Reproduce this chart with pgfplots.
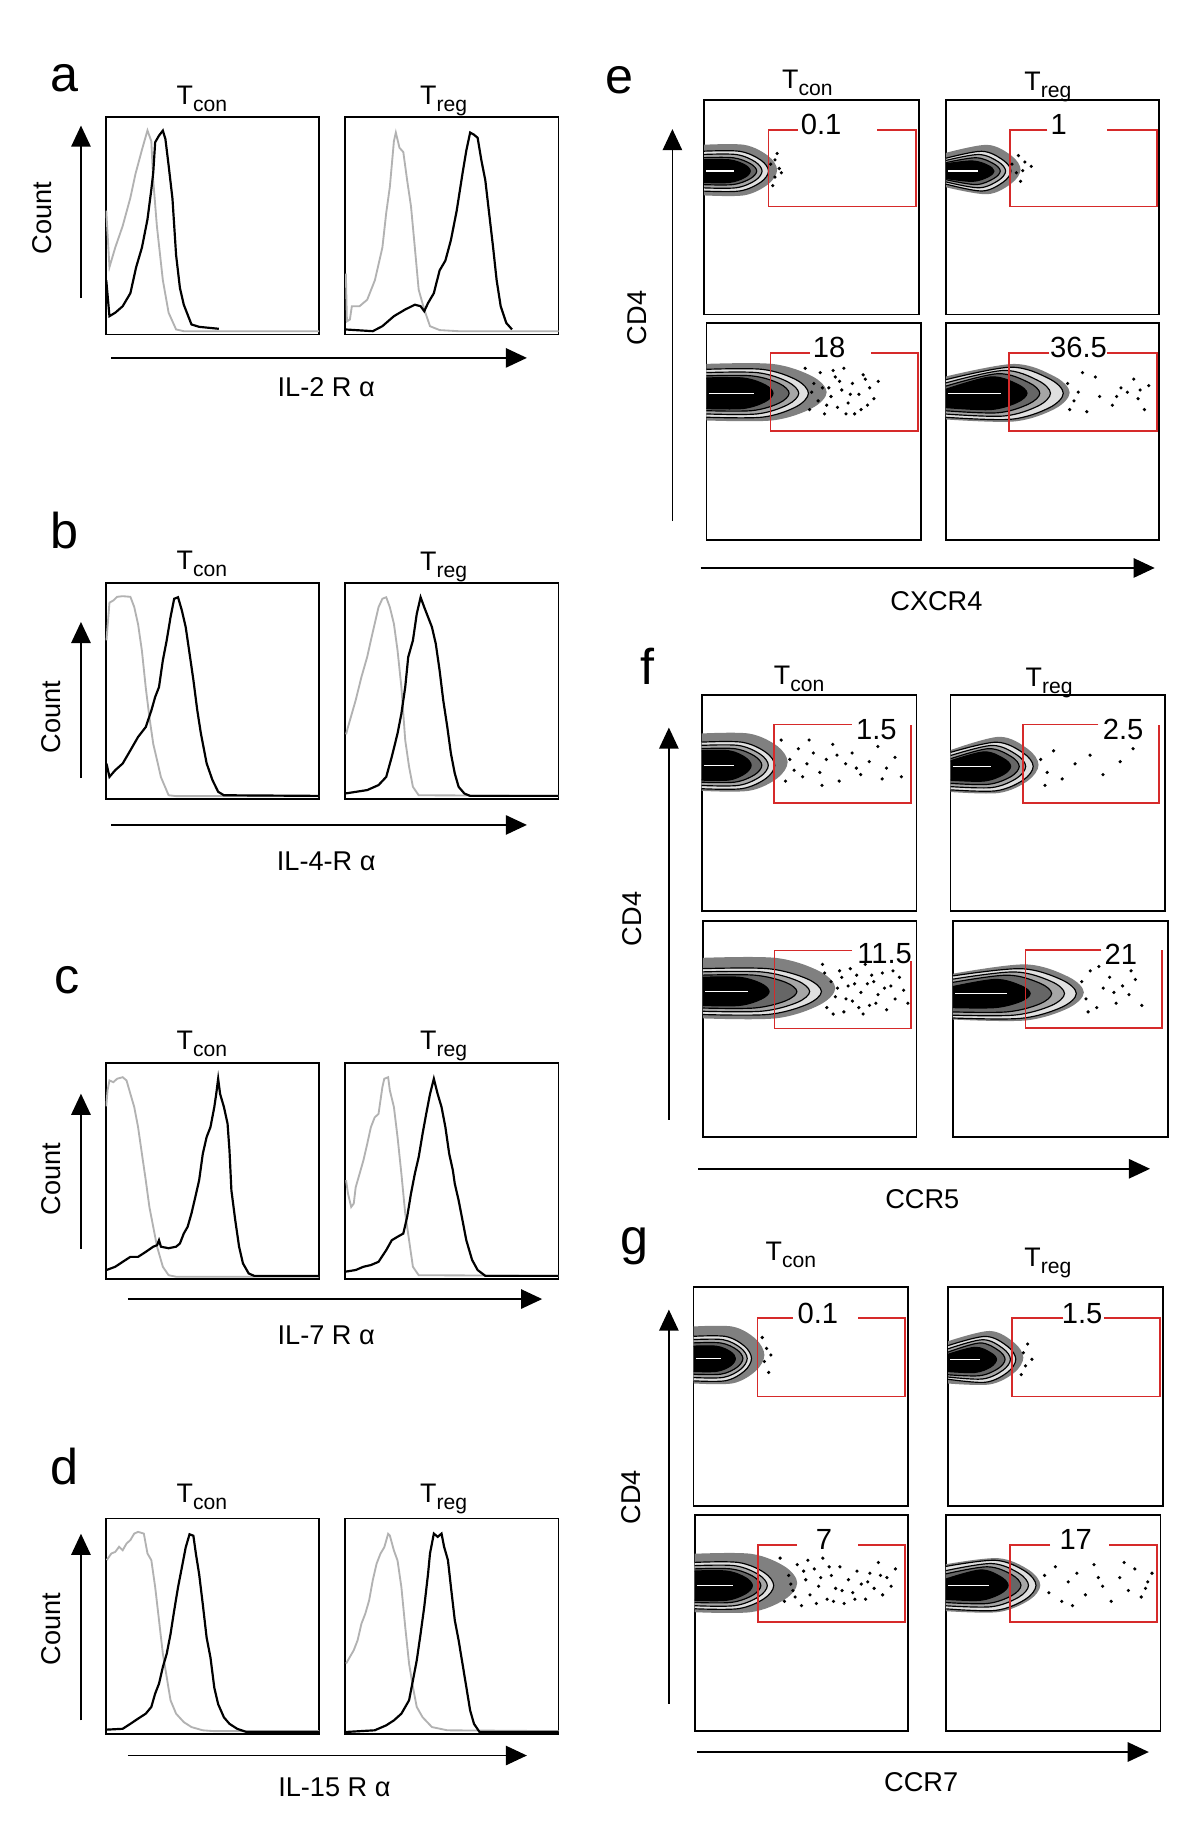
\documentclass[border=0pt]{standalone}
\usepackage{pgfplots}
\pgfplotsset{compat=1.18}
\usepackage{pgfplotstable}
\usepackage{fontspec}
\setmainfont{Liberation Sans}
\usetikzlibrary{arrows.meta}
\definecolor{gatered}{RGB}{214,42,42}

\pgfplotsset{
  panel/.style={scale only axis, anchor=north west, xmin=0, xmax=100, ymin=0, ymax=100,
    xtick=\empty, ytick=\empty, axis line style={line width=0.55pt}},
  ctrl/.style={black!30, line width=0.55pt},
  stain/.style={black, line width=0.65pt},
  gate/.style={gatered, line width=0.55pt},
  cloud/.style={only marks, mark=*, mark size=0.25pt, black},
  streak/.style={white, line width=0.45pt},
}
\newcommand\blob[1]{%
  \addplot[draw=none, fill=black!50, smooth, tension=0.55] table[x=x0,y=y0]{#1};
  \addplot[draw=black, fill=black!12, line width=0.35pt, smooth, tension=0.55] table[x=x1,y=y1]{#1};
  \addplot[draw=black, fill=black!35, line width=0.35pt, smooth, tension=0.55] table[x=x2,y=y2]{#1};
  \addplot[draw=black, fill=black!60, line width=0.35pt, smooth, tension=0.55] table[x=x3,y=y3]{#1};
  \addplot[draw=black, fill=black, line width=0.35pt, smooth, tension=0.55] table[x=x4,y=y4]{#1};
}
\newcommand\gl{\fontsize{8.7}{9}\selectfont}
\newcommand\lab{\fontsize{8.1}{9}\selectfont}
\newcommand\plet{\fontsize{15}{16}\selectfont}
\newcommand\ttl[2]{{\fontsize{8}{9}\selectfont #1\raisebox{-2.2pt}{\fontsize{6.3}{7}\selectfont #2}}}

% contour outlines of each flow panel: halo, three rings, dense core
\pgfplotstableread{
x0 y0 x1 y1 x2 y2 x3 y3 x4 y4
-1 79 -1 76 -1 74.5 -1 73 -1 72
18.7 79 16.5 76 14.9 74.5 13.5 73 11.8 72
29.9 73.8 26.4 71.9 23.8 71.1 21.6 70.2 18.9 69.7
34 67.3 30 66.8 27 66.8 24.5 66.8 21.5 66.8
29.9 60.7 26.4 61.6 23.8 62.4 21.6 63.3 18.9 63.8
18.7 55.5 16.5 57.5 14.9 59 13.5 60.5 11.8 61.5
-1 55.5 -1 57.5 -1 59 -1 60.5 -1 61.5
}\eUT
\pgfplotstableread{
x0 y0 x1 y1 x2 y2 x3 y3 x4 y4
-1 75 -1 72.5 -1 71.5 -1 70.5 -1 70
19.3 79 16.8 76 15.4 74.5 14 73 12.4 71.5
30.8 73.9 26.8 71.9 24.6 71.1 22.4 70.2 19.8 69.4
35 67.5 30.5 66.8 28 66.8 25.5 66.8 22.5 66.8
30.8 61.1 26.8 61.6 24.6 62.4 22.4 63.3 19.8 64.1
19.3 56 16.8 57.5 15.4 59 14 60.5 12.4 62
-1 59.5 -1 61 -1 62 -1 63 -1 63.5
}\eUR
\pgfplotstableread{
x0 y0 x1 y1 x2 y2 x3 y3 x4 y4
-1 81 -1 78.5 -1 77 -1 75.5 -1 74.5
30.8 81 26.1 78.5 23.7 77 21.2 75.5 17.1 74.5
49.3 75.3 41.8 73.7 37.8 72.8 33.9 72 27.3 71.4
56 68 47.5 67.5 43 67.5 38.5 67.5 31 67.5
49.3 60.7 41.8 61.3 37.8 62.2 33.9 63 27.3 63.6
30.8 55 26.1 56.5 23.7 58 21.2 59.5 17.1 60.5
-1 55 -1 56.5 -1 58 -1 59.5 -1 60.5
}\eLT
\pgfplotstableread{
x0 y0 x1 y1 x2 y2 x3 y3 x4 y4
-1 75 -1 73.5 -1 72 -1 70.5 -1 69
31.9 81 30.3 79.5 27 78 24.2 76.5 20.9 75
51 75.2 48.4 74.2 43.1 73.4 38.7 72.5 33.4 71.7
58 67.8 55 67.5 49 67.5 44 67.5 38 67.5
51 60.3 48.4 60.8 43.1 61.6 38.7 62.5 33.4 63.3
31.9 54.5 30.3 55.5 27 57 24.2 58.5 20.9 60
-1 55.5 -1 56.5 -1 58 -1 59.5 -1 61
}\eLR
\pgfplotstableread{
x0 y0 x1 y1 x2 y2 x3 y3 x4 y4
-1 82 -1 78 -1 76.5 -1 75 -1 74
22 82 18.7 78 17.1 76.5 15.4 75 12.7 74
35.2 76.2 29.9 73.3 27.3 72.4 24.6 71.6 20.2 71
40 68.8 34 67.3 31 67.3 28 67.3 23 67.3
35.2 61.3 29.9 61.2 27.3 62.1 24.6 62.9 20.2 63.5
22 55.5 18.7 56.5 17.1 58 15.4 59.5 12.7 60.5
-1 55.5 -1 56.5 -1 58 -1 59.5 -1 60.5
}\fUT
\pgfplotstableread{
x0 y0 x1 y1 x2 y2 x3 y3 x4 y4
-1 74 -1 73 -1 71.5 -1 70 -1 69
22.6 80.5 21.2 78 19.3 76.5 17.6 75 15.4 73.5
36.1 74.8 33.9 73 30.8 72.2 28.2 71.4 24.6 70.5
41 67.5 38.5 66.8 35 66.8 32 66.8 28 66.8
36.1 60.2 33.9 60.5 30.8 61.3 28.2 62.1 24.6 63
22.6 54.5 21.2 55.5 19.3 57 17.6 58.5 15.4 60
-1 55 -1 56 -1 57.5 -1 59 -1 60.5
}\fUR
\pgfplotstableread{
x0 y0 x1 y1 x2 y2 x3 y3 x4 y4
-1 83 -1 78 -1 76.5 -1 75 -1 74
34.1 83 30.5 78 27.5 76.5 24.2 75 17.1 74
54.6 76.8 48.8 73.3 44 72.5 38.7 71.7 27.3 71.1
62 69 55.5 67.4 50 67.4 44 67.4 31 67.4
54.6 61.2 48.8 61.5 44 62.3 38.7 63.1 27.3 63.9
34.1 55 30.5 56.8 27.5 58.3 24.2 59.8 17.1 61
-1 55 -1 56.8 -1 58.3 -1 59.8 -1 61
}\fLT
\pgfplotstableread{
x0 y0 x1 y1 x2 y2 x3 y3 x4 y4
-1 75.5 -1 74.5 -1 73 -1 71.5 -1 69.5
33.6 80 31.6 78 28.6 76.5 25.3 75 19.8 73
53.7 74.3 50.6 72.9 45.8 72.1 40.5 71.3 31.7 70.1
61 67 57.5 66.5 52 66.5 46 66.5 36 66.5
53.7 59.7 50.6 60.1 45.8 60.9 40.5 61.7 31.7 62.9
33.6 54 31.6 55 28.6 56.5 25.3 58 19.8 60
-1 54.5 -1 55.2 -1 56.5 -1 58 -1 60
}\fLR
\pgfplotstableread{
x0 y0 x1 y1 x2 y2 x3 y3 x4 y4
-1 82 -1 77.5 -1 76 -1 74.5 -1 73
18.2 82 14.9 77.5 13.8 76 12.7 74.5 10.7 73
29 76.3 23.8 73 22 72.2 20.2 71.4 17.2 70.5
33 69 27 67.4 25 67.4 23 67.4 19.5 67.4
29 61.7 23.8 61.7 22 62.5 20.2 63.3 17.2 64
18.2 56 14.9 57.2 13.8 58.7 12.7 60.2 10.7 61.5
-1 56 -1 57.2 -1 58.7 -1 60.2 -1 61.5
}\gUT
\pgfplotstableread{
x0 y0 x1 y1 x2 y2 x3 y3 x4 y4
-1 75 -1 73 -1 71.5 -1 70 -1 69
19.3 80 17.3 77.5 16 76 14.6 74.5 12.4 72.5
30.8 74.6 27.7 72.9 25.5 72 23.3 71.2 19.8 70
35 67.8 31.5 67 29 67 26.5 67 22.5 67
30.8 60.9 27.7 61.1 25.5 62 23.3 62.8 19.8 63.5
19.3 55.5 17.3 56.5 16 58 14.6 59.5 12.4 61
-1 56 -1 58 -1 59 -1 60 -1 61.5
}\gUR
\pgfplotstableread{
x0 y0 x1 y1 x2 y2 x3 y3 x4 y4
-1 82 -1 78 -1 76.5 -1 75 -1 74
26.4 82 20.4 78 18.7 76.5 17.1 75 14.9 74
42.2 76.1 32.6 73.3 29.9 72.4 27.3 71.6 23.8 71
48 68.5 37 67.3 34 67.3 31 67.3 27 67.3
42.2 60.9 32.6 61.3 29.9 62.1 27.3 62.9 23.8 63.5
26.4 55 20.4 56.6 18.7 58 17.1 59.5 14.9 60.5
-1 55 -1 56.6 -1 58 -1 59.5 -1 60.5
}\gLT
\pgfplotstableread{
x0 y0 x1 y1 x2 y2 x3 y3 x4 y4
-1 77 -1 76 -1 74 -1 72.5 -1 70
24.2 80 23.1 79 21.2 77.5 19.3 76 16 74.5
38.7 74.5 37 73.9 33.9 73.1 30.8 72.3 25.5 71.4
44 67.5 42 67.4 38.5 67.4 35 67.4 29 67.4
38.7 60.5 37 60.9 33.9 61.9 30.8 62.7 25.5 63.6
24.2 55 23.1 55.8 21.2 57.5 19.3 59 16 60.5
-1 55.5 -1 56.6 -1 58 -1 59.5 -1 61
}\gLR

\begin{document}
\begin{tikzpicture}[x=0.35pt, y=-0.35pt]
\path[fill=white] (0,0) rectangle (1023,1568);

% ---------------- a ----------------
\node[font=\plet] at (55,67) {a};
\node[anchor=base] at (172,89) {\ttl{T}{con}};
\node[anchor=base] at (378,89) {\ttl{T}{reg}};
\node[rotate=90, font=\lab] at (36,186) {Count};
\draw[line width=0.45pt, -{Triangle[length=6.3pt,width=5.8pt]}] (69,254) -- (69,107);
\draw[line width=0.45pt, -{Triangle[length=6.3pt,width=5.8pt]}] (95,305) -- (449,305);
\node[font=\lab] at (278,330) {IL-2 R α};
\begin{axis}[panel, at={(90*0.35pt,-100*0.35pt)}, width=63.7pt, height=64.75pt]
\addplot[ctrl] coordinates {(0.3,57) (1.8,31) (4.5,40) (8,50) (11.6,63) (14,74) (17,85) (19.6,94) (21.4,89) (22.3,71) (24,50) (26.8,25) (29.5,10) (33,2.3) (36.6,1.5) (100,1.5)};
\addplot[stain] coordinates {(0.3,25) (1.8,8.4) (4.5,10) (8,13) (11.6,19) (14.3,31) (17,40) (19.6,53) (21.4,66.7) (22.3,74.5) (23.2,88.5) (25,91.6) (26.8,93.9) (28,90) (29.5,77.9) (31.3,62.6) (33,36.6) (34.8,21.4) (36.6,13.7) (40.2,4.6) (43.8,3.5) (53,2.6)};
\end{axis}
\begin{axis}[panel, at={(294*0.35pt,-100*0.35pt)}, width=63.7pt, height=64.75pt]
\addplot[ctrl] coordinates {(0.4,28) (0.9,6) (2.3,6.9) (3.2,13) (6.8,13) (10.4,16) (14,25) (17.5,40) (19.3,56) (21,68) (22.9,89) (23.8,93) (25.5,86) (27.3,84) (29.1,71) (30.9,59) (32.7,40) (34.5,20.6) (37.1,11.5) (39.8,3.8) (44.3,2) (53,1.5) (100,1.5)};
\addplot[stain] coordinates {(0,2.3) (13,1.5) (17.5,3.8) (22.9,8.4) (28.2,11.5) (32.7,13.7) (35.4,13) (37.1,10.7) (38.9,14.5) (41.6,19) (44.3,29.5) (47,34) (49.6,43.5) (52.3,57) (55,74) (56.8,84.7) (58.6,93) (60.4,92) (62.1,90.6) (63.9,80) (65.7,71) (67.5,55.7) (69.3,40.5) (71,25) (72.9,13) (75.5,5.3) (78.2,2.3)};
\end{axis}

% ---------------- b ----------------
\node[font=\plet] at (55,452) {b};
\node[anchor=base] at (172,485) {\ttl{T}{con}};
\node[anchor=base] at (378,486) {\ttl{T}{reg}};
\node[rotate=90, font=\lab] at (44,611) {Count};
\draw[line width=0.45pt, -{Triangle[length=6.3pt,width=5.8pt]}] (69,663) -- (69,530);
\draw[line width=0.45pt, -{Triangle[length=6.3pt,width=5.8pt]}] (95,703) -- (449,703);
\node[font=\lab] at (278,734) {IL-4-R α};
\begin{axis}[panel, at={(90*0.35pt,-497*0.35pt)}, width=63.7pt, height=64.4pt]
\addplot[ctrl] coordinates {(0.4,73.5) (1.8,91) (3.6,92) (5.4,93.7) (8,94) (11.6,93.7) (13.4,89) (15.2,81) (17,68.7) (18.8,51.6) (20.5,38) (22.3,25.6) (24.1,18) (25.9,10.2) (29.5,1.8) (33,1.4) (100,1.4)};
\addplot[stain] coordinates {(0.4,16.5) (1.8,10.3) (4.5,13.4) (8,16.5) (11.6,22.6) (15.2,28.8) (18.8,33.4) (21.4,41) (23.2,47.3) (25,51.9) (26.8,64.3) (28.6,73.5) (30.4,84.3) (32.1,92.8) (33.9,93.5) (35.7,87.4) (37.5,79.7) (39.3,67.5) (41.1,55.2) (42.9,41.3) (44.6,30.5) (47.3,16.6) (50,8.9) (52.7,3.4) (55.4,1.8) (100,1.5)};
\end{axis}
\begin{axis}[panel, at={(294*0.35pt,-497*0.35pt)}, width=63.7pt, height=64.4pt]
\addplot[ctrl] coordinates {(0.5,30) (1.4,33.4) (3.2,39.6) (5,45.8) (7.7,56.6) (10.4,65.9) (12.1,73.5) (13.9,81.2) (15.7,88.9) (17.5,92.8) (19.3,93.5) (21,88.9) (22.9,81.2) (24.6,68.9) (26.4,51.9) (28.2,27.3) (30,15) (31.8,5.7) (34.5,1.8) (100,1.5)};
\addplot[stain] coordinates {(0,2.6) (10.4,4.2) (15.7,6.5) (19.3,10.3) (21.9,19.6) (24.6,30.4) (26.4,39.6) (28.2,51.9) (29.6,65.8) (31.8,73.5) (33.6,85.8) (35.4,93.5) (37.1,88.9) (38.9,84.3) (40.7,79.7) (42.5,72) (44.3,59.6) (46,45.8) (47.9,33.4) (49.6,21.1) (51.4,11.9) (53.2,5.7) (55.9,2.6) (58.6,1.5) (100,1.5)};
\end{axis}

% ---------------- c ----------------
\node[font=\plet] at (57,835) {c};
\node[anchor=base] at (172,894) {\ttl{T}{con}};
\node[anchor=base] at (378,894) {\ttl{T}{reg}};
\node[rotate=90, font=\lab] at (44,1005) {Count};
\draw[line width=0.45pt, -{Triangle[length=6.3pt,width=5.8pt]}] (69,1064) -- (69,932);
\draw[line width=0.45pt, -{Triangle[length=6.3pt,width=5.8pt]}] (109,1107) -- (462,1107);
\node[font=\lab] at (278,1138) {IL-7 R α};
\begin{axis}[panel, at={(90*0.35pt,-906*0.35pt)}, width=63.7pt, height=64.4pt]
\addplot[ctrl] coordinates {(0.3,80) (0.9,87.4) (1.8,92) (3.6,91.2) (5.4,92.8) (8,93.5) (9.8,92) (11.6,85.8) (13.4,79.7) (15.2,70.4) (17,58) (18.8,45.8) (20.5,33.4) (22.3,24.2) (24.1,15) (26.8,5.7) (29.5,1.8) (33,1.1) (100,1.1)};
\addplot[stain] coordinates {(0.4,4.2) (4.5,5.7) (8,8) (11.6,10.3) (15.2,10.3) (18.8,12.6) (22.3,15) (24.1,15.7) (25,18) (25.9,15) (29.5,14.3) (33,15) (34.8,16.5) (36.6,21.1) (38.4,24.2) (40.2,30.4) (42,38) (43.8,45.8) (45.5,58) (47.3,65.8) (49.1,70.4) (50.9,79.7) (51.8,85.8) (52.7,92.8) (53.6,85.8) (55.4,79.7) (57.1,72) (58,59.6) (58.9,41.1) (60.7,27.3) (62.5,15) (64.3,7.3) (67,2.6) (69.6,1.5) (100,1.5)};
\end{axis}
\begin{axis}[panel, at={(294*0.35pt,-906*0.35pt)}, width=63.7pt, height=64.4pt]
\addplot[ctrl] coordinates {(0.5,45.8) (1.4,39.6) (2.9,33.4) (4.1,35) (5,42.5) (6.8,48.7) (8.6,54.9) (10.4,62.6) (12.1,70.3) (13.9,74.9) (15.7,76.5) (17.5,88.9) (18.4,92.8) (20.2,93.5) (21,87.4) (22.9,79.7) (24.6,65.8) (26.4,48.8) (28.2,30.4) (30,18) (31.8,5.7) (34.5,1.8) (100,1.5)};
\addplot[stain] coordinates {(0,3.4) (5,4.2) (8.6,5.7) (12.1,6.5) (15.7,8) (19.3,13.4) (21.9,18) (24.6,19.6) (27.3,21.1) (29.1,28.8) (30.9,39.6) (32.7,48.8) (34.5,56.5) (36.3,67.2) (38,76.4) (39.8,85.7) (41.6,92.8) (43.4,85.7) (45.2,79.7) (47,70.4) (48.8,58) (50.5,50.4) (51.4,44.2) (53.2,36.5) (55,27.3) (56.8,18) (59.5,8.9) (62.1,4.2) (65.7,1.5) (100,1.5)};
\end{axis}

% ---------------- d ----------------
\node[font=\plet] at (55,1250) {d};
\node[anchor=base] at (172,1280) {\ttl{T}{con}};
\node[anchor=base] at (378,1280) {\ttl{T}{reg}};
\node[rotate=90, font=\lab] at (44,1388) {Count};
\draw[line width=0.45pt, -{Triangle[length=6.3pt,width=5.8pt]}] (69,1466) -- (69,1307);
\draw[line width=0.45pt, -{Triangle[length=6.3pt,width=5.8pt]}] (109,1496) -- (449,1496);
\node[font=\lab] at (285,1523) {IL-15 R α};
\begin{axis}[panel, at={(90*0.35pt,-1294*0.35pt)}, width=63.7pt, height=64.4pt]
\addplot[ctrl] coordinates {(0.5,80.7) (2.7,83.8) (4.5,84.5) (6.3,86.9) (8,85.3) (9.8,88.4) (11.6,90) (13.4,93) (15.2,93.8) (17.9,93) (19.6,83.8) (21.4,80.7) (23.2,68.3) (25,52.9) (26.8,37.4) (28.6,26.6) (30.4,15.8) (33,9.6) (36.6,5.7) (40.2,3.4) (45.5,1.9) (50.9,1.5) (100,1.5)};
\addplot[stain] coordinates {(0.4,2.2) (8,2.6) (11.6,4.9) (15.2,7.3) (18.8,9.6) (21.4,12.7) (23.2,18.9) (25,23.5) (26.8,31.2) (28.6,37.3) (30.4,46.5) (32.1,57.3) (33.9,68.1) (35.7,77.3) (37.5,86.6) (39.3,92.7) (41.1,92) (42.3,83.5) (43.8,74.2) (45.5,60.3) (47.3,44.8) (49.1,35.6) (50.9,21.6) (52.7,14) (55.4,7.9) (58,4.9) (61.6,2.6) (66,1.1) (100,1.1)};
\end{axis}
\begin{axis}[panel, at={(294*0.35pt,-1294*0.35pt)}, width=63.7pt, height=64.4pt]
\addplot[ctrl] coordinates {(0.5,32.8) (2.3,35.9) (4.1,39) (5.9,43.6) (7.7,51.3) (9.5,55.9) (11.3,62.1) (13,71.4) (14.8,79.1) (16.6,83.7) (18.4,86.7) (20.2,92.9) (21,92.1) (22.9,85.2) (24.6,80.5) (26.4,68.2) (28.2,49.8) (30,32.8) (31.8,21.9) (33.6,12.7) (36.3,8) (40.7,3.4) (47.9,1.9) (100,1.5)};
\addplot[stain] coordinates {(0,1.1) (13.9,1.9) (19.3,4.2) (22.9,6.5) (26.4,9.6) (30,15.8) (31.8,25) (33.6,34.3) (35.4,46.7) (37.1,59) (38.9,74.5) (39.8,83.8) (41.6,93) (43.4,91.5) (45.2,93) (46.4,86.9) (48.2,80.7) (49.6,68.3) (51.4,52.9) (53.2,43.6) (55,32.8) (56.8,22) (58.6,11.1) (60.4,4.9) (63,1.1) (100,1.1)};
\end{axis}

% ---------------- e ----------------
\node[font=\plet] at (528,68) {e};
\node[anchor=base] at (688,75) {\ttl{T}{con}};
\node[anchor=base] at (893,77) {\ttl{T}{reg}};
\node[rotate=90, font=\lab] at (543,271) {CD4};
\draw[line width=0.45pt, -{Triangle[length=6.3pt,width=5.8pt]}] (573,444) -- (573,110);
\draw[line width=0.45pt, -{Triangle[length=6.3pt,width=5.8pt]}] (597,484) -- (984,484);
\node[font=\lab] at (798,512) {CXCR4};
\begin{axis}[panel, at={(600*0.35pt,-85*0.35pt)}, width=64.05pt, height=64.05pt]
\blob{\eUT}
\addplot[streak] coordinates {(1,66.8) (14,66.8)};
\addplot[cloud] coordinates {(31,70) (33,64) (35,68) (32,60) (34,75) (36,66) (33,72)};
\addplot[gate] coordinates {(43.7,86.1) (30,86.1) (30,50.3) (98.7,50.3) (98.7,86.1) (80.7,86.1)};
\node[font=\gl] at (axis cs:54.5,88.3) {0.1};
\end{axis}
\begin{axis}[panel, at={(806*0.35pt,-85*0.35pt)}, width=63.7pt, height=64.05pt]
\blob{\eUR}
\addplot[streak] coordinates {(1,66.8) (15,66.8)};
\addplot[cloud] coordinates {(31,70) (33,66) (35,62) (37,71) (34,74) (36,67) (40,69)};
\addplot[gate] coordinates {(47.5,86.1) (30,86.1) (30,50.3) (98.7,50.3) (98.7,86.1) (75.5,86.1)};
\node[font=\gl] at (axis cs:52.9,88.3) {1};
\end{axis}
\begin{axis}[panel, at={(602*0.35pt,-275*0.35pt)}, width=64.05pt, height=64.75pt]
\blob{\eLT}
\addplot[streak] coordinates {(1,67.5) (22,67.5)};
\addplot[cloud] coordinates {(46,79) (48,60) (50,72) (52,64) (53,77) (55,58) (57,70) (58,66) (60,75) (61,61) (63,69) (64,79) (66,63) (68,72) (69,58) (71,67) (73,76) (75,62) (76,70) (78,65) (80,73) (49,68) (56,62) (62,73) (67,67) (72,60) (74,74) (54,70) (59,78) (65,58)};
\addplot[gate] coordinates {(48.2,86) (29.8,86) (29.8,50.1) (98.6,50.1) (98.6,86) (76.8,86)};
\node[font=\gl] at (axis cs:57.1,88.4) {18};
\end{axis}
\begin{axis}[panel, at={(806*0.35pt,-275*0.35pt)}, width=63.7pt, height=64.75pt]
\blob{\eLR}
\addplot[streak] coordinates {(1,67.5) (26,67.5)};
\addplot[cloud] coordinates {(57,72) (60,64) (62,68) (66,59) (70,75) (72,66) (78,62) (82,70) (85,68) (88,74) (90,65) (93,60) (95,71) (58,60) (64,77) (80,66) (91,69)};
\addplot[gate] coordinates {(48.5,86) (29.6,86) (29.6,50.1) (98.7,50.1) (98.7,86) (75.5,86)};
\node[font=\gl] at (axis cs:62.1,88.4) {36.5};
\end{axis}

% ---------------- f ----------------
\node[font=\plet] at (552,568) {f};
\node[anchor=base] at (681,583) {\ttl{T}{con}};
\node[anchor=base] at (894,585) {\ttl{T}{reg}};
\node[rotate=90, font=\lab] at (539,783) {CD4};
\draw[line width=0.45pt, -{Triangle[length=6.3pt,width=5.8pt]}] (570,954) -- (570,620);
\draw[line width=0.45pt, -{Triangle[length=6.3pt,width=5.8pt]}] (595,996) -- (980,996);
\node[font=\lab] at (786,1022) {CCR5};
\begin{axis}[panel, at={(598*0.35pt,-592*0.35pt)}, width=64.05pt, height=64.4pt]
\blob{\fUT}
\addplot[streak] coordinates {(1,67.3) (15,67.3)};
\addplot[cloud] coordinates {(37,79) (39,60) (41,70) (43,65) (45,75) (47,62) (49,68) (52,73) (55,64) (58,70) (61,77) (64,60) (67,68) (70,73) (74,63) (78,69) (82,76) (86,66) (90,71) (93,62) (50,79) (56,58) (63,72) (72,66) (84,61)};
\addplot[gate] coordinates {(69.9,86.2) (33.6,86.2) (33.6,50) (97.3,50) (97.3,86.2)};
\node[font=\gl] at (axis cs:81.3,84) {1.5};
\end{axis}
\begin{axis}[panel, at={(810*0.35pt,-592*0.35pt)}, width=64.05pt, height=64.4pt]
\blob{\fUR}
\addplot[streak] coordinates {(1,66.8) (19,66.8)};
\addplot[cloud] coordinates {(42,70) (45,64) (48,74) (52,61) (58,68) (65,72) (71,63) (79,69) (85,75) (44,58)};
\addplot[gate] coordinates {(68.9,86.2) (33.6,86.2) (33.6,50) (97,50) (97,86.2)};
\node[font=\gl] at (axis cs:80.4,84) {2.5};
\end{axis}
\begin{axis}[panel, at={(599*0.35pt,-785*0.35pt)}, width=63.7pt, height=64.4pt]
\blob{\fLT}
\addplot[streak] coordinates {(1,67.4) (21,67.4)};
\addplot[cloud] coordinates {(56,80) (58,60) (60,72) (62,65) (64,77) (66,58) (68,70) (70,63) (72,75) (74,67) (76,80) (78,61) (80,72) (82,66) (84,76) (86,59) (88,70) (90,64) (92,74) (94,68) (96,62) (57,76) (61,57) (65,74) (69,78) (73,60) (77,71) (81,62) (85,69) (89,77) (63,69) (67,64) (71,71) (75,57) (79,75)};
\addplot[gate] coordinates {(69.9,86.4) (33.5,86.4) (33.5,50.3) (97.3,50.3) (97.3,81.5)};
\node[font=\gl] at (axis cs:85.1,85) {11.5};
\end{axis}
\begin{axis}[panel, at={(812*0.35pt,-785*0.35pt)}, width=64.05pt, height=64.4pt]
\blob{\fLR}
\addplot[streak] coordinates {(1,66.5) (25,66.5)};
\addplot[cloud] coordinates {(60,72) (62,64) (64,77) (67,60) (70,69) (73,74) (76,62) (79,70) (82,66) (85,73) (88,61) (63,58) (68,79) (75,67) (83,77)};
\addplot[gate] coordinates {(69.2,86.5) (33.8,86.5) (33.8,50.4) (97.3,50.4) (97.3,86.5)};
\node[font=\gl] at (axis cs:78.2,84.6) {21};
\end{axis}

% ---------------- g ----------------
\node[font=\plet] at (541,1062) {g};
\node[anchor=base] at (674,1074) {\ttl{T}{con}};
\node[anchor=base] at (893,1079) {\ttl{T}{reg}};
\node[rotate=90, font=\lab] at (538,1276) {CD4};
\draw[line width=0.45pt, -{Triangle[length=6.3pt,width=5.8pt]}] (570,1452) -- (570,1116);
\draw[line width=0.45pt, -{Triangle[length=6.3pt,width=5.8pt]}] (594,1493) -- (979,1493);
\node[font=\lab] at (785,1519) {CCR7};
\begin{axis}[panel, at={(591*0.35pt,-1097*0.35pt)}, width=64.05pt, height=65.1pt]
\blob{\gUT}
\addplot[streak] coordinates {(1,67.4) (13,67.4)};
\addplot[cloud] coordinates {(33,66) (34,72) (35,61) (32,77) (36,69)};
\addplot[gate] coordinates {(46.3,85.8) (29.8,85.8) (29.8,50) (98.4,50) (98.4,85.8) (76.6,85.8)};
\node[font=\gl] at (axis cs:57.9,88.1) {0.1};
\end{axis}
\begin{axis}[panel, at={(808*0.35pt,-1097*0.35pt)}, width=64.05pt, height=65.1pt]
\blob{\gUR}
\addplot[streak] coordinates {(1,67) (15,67)};
\addplot[cloud] coordinates {(35,70) (36,64) (34,60) (37,74) (39,67)};
\addplot[gate] coordinates {(53.7,85.8) (29.9,85.8) (29.9,50) (98.6,50) (98.6,85.8) (72.7,85.8)};
\node[font=\gl] at (axis cs:62.4,88.1) {1.5};
\end{axis}
\begin{axis}[panel, at={(592*0.35pt,-1291*0.35pt)}, width=63.7pt, height=64.4pt]
\blob{\gLT}
\addplot[streak] coordinates {(1,67.3) (18,67.3)};
\addplot[cloud] coordinates {(40,80) (42,60) (44,72) (46,65) (48,77) (50,58) (52,70) (54,63) (56,75) (58,67) (60,80) (62,61) (64,72) (66,66) (68,76) (70,59) (72,70) (74,64) (76,74) (78,68) (80,61) (82,73) (84,66) (86,78) (88,63) (90,71) (92,67) (94,75) (45,68) (51,74) (57,59) (63,76) (69,65) (75,61) (81,69) (87,72) (47,62) (53,79) (59,71) (65,60)};
\addplot[gate] coordinates {(48,86) (29.8,86) (29.8,50.4) (98.6,50.4) (98.6,86) (76.6,86)};
\node[font=\gl] at (axis cs:60.5,88.5) {7};
\end{axis}
\begin{axis}[panel, at={(806*0.35pt,-1291*0.35pt)}, width=64.05pt, height=64.4pt]
\blob{\gLR}
\addplot[streak] coordinates {(1,67.4) (20,67.4)};
\addplot[cloud] coordinates {(46,72) (48,64) (51,76) (54,60) (57,69) (61,73) (65,63) (69,77) (73,67) (77,60) (81,71) (85,65) (88,75) (91,62) (94,69) (96,73) (59,58) (71,71) (83,78) (93,66)};
\addplot[gate] coordinates {(48.6,86) (29.9,86) (29.9,50.4) (98.4,50.4) (98.4,86) (75.8,86)};
\node[font=\gl] at (axis cs:60.5,88.5) {17};
\end{axis}
\end{tikzpicture}
\end{document}
